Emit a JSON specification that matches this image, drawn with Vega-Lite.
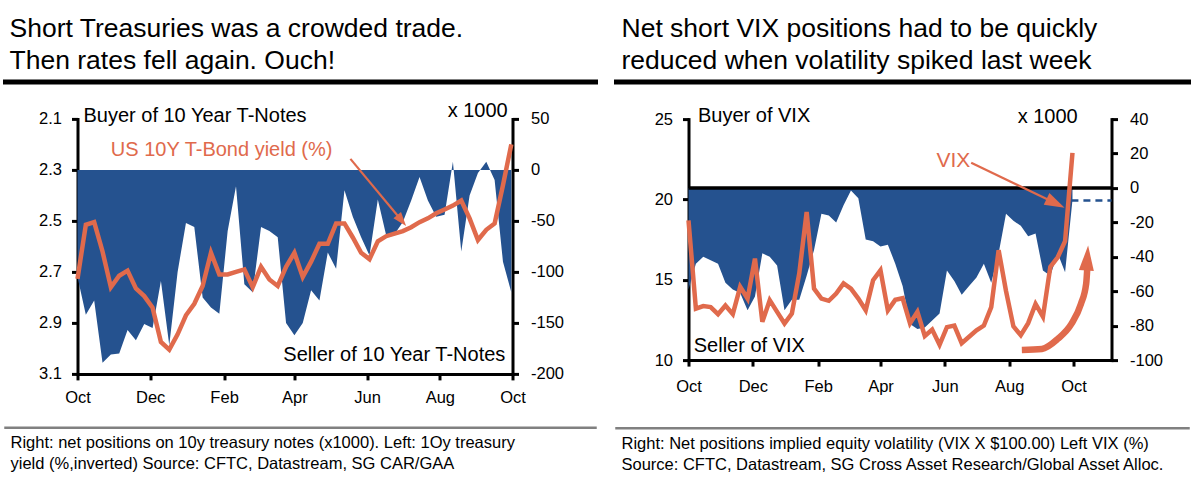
{
  "$schema": "https://vega.github.io/schema/vega-lite/v6.json",
  "background": "white",
  "padding": {"left": 2.5, "top": 13, "right": 0, "bottom": 0},
  "config": {
    "view": {"stroke": null},
    "font": "Liberation Sans",
    "axis": {"domainColor": "#000", "domainWidth": 3, "domainCap": "square", "tickColor": "#000", "tickWidth": 3, "tickSize": 6, "labelFontSize": 16.5, "labelColor": "#000", "labelFont": "Liberation Sans", "grid": false, "labelFlush": false, "labelOverlap": false, "labelBound": false},
    "title": {"font": "Liberation Sans", "fontWeight": "normal", "color": "#000", "anchor": "start"},
    "text": {"font": "Liberation Sans"}
  },
  "datasets": {
    "tsy": [
      {"date":"2017-10-01","pos":-105,"yield":2.727},
      {"date":"2017-10-08","pos":-142,"yield":2.515},
      {"date":"2017-10-15","pos":-128,"yield":2.505},
      {"date":"2017-10-22","pos":-189,"yield":2.62},
      {"date":"2017-10-29","pos":-181,"yield":2.76},
      {"date":"2017-11-05","pos":-180,"yield":2.715},
      {"date":"2017-11-12","pos":-157,"yield":2.695},
      {"date":"2017-11-19","pos":-167,"yield":2.765},
      {"date":"2017-11-26","pos":-151,"yield":2.795},
      {"date":"2017-12-03","pos":-155,"yield":2.84},
      {"date":"2017-12-10","pos":-109,"yield":2.975},
      {"date":"2017-12-17","pos":-172,"yield":3.005},
      {"date":"2017-12-24","pos":-100,"yield":2.945},
      {"date":"2017-12-31","pos":-52,"yield":2.87},
      {"date":"2018-01-07","pos":-56,"yield":2.825},
      {"date":"2018-01-14","pos":-125,"yield":2.755},
      {"date":"2018-01-21","pos":-135,"yield":2.625},
      {"date":"2018-01-28","pos":-141,"yield":2.71},
      {"date":"2018-02-04","pos":-60,"yield":2.71},
      {"date":"2018-02-11","pos":-16,"yield":2.7},
      {"date":"2018-02-18","pos":-112,"yield":2.69},
      {"date":"2018-02-25","pos":-120,"yield":2.76},
      {"date":"2018-03-04","pos":-56,"yield":2.68},
      {"date":"2018-03-11","pos":-60,"yield":2.73},
      {"date":"2018-03-18","pos":-66,"yield":2.755},
      {"date":"2018-03-25","pos":-150,"yield":2.68},
      {"date":"2018-04-01","pos":-162,"yield":2.625},
      {"date":"2018-04-08","pos":-150,"yield":2.72},
      {"date":"2018-04-15","pos":-118,"yield":2.66},
      {"date":"2018-04-22","pos":-128,"yield":2.59},
      {"date":"2018-04-29","pos":-81,"yield":2.59},
      {"date":"2018-05-06","pos":-97,"yield":2.51},
      {"date":"2018-05-13","pos":-20,"yield":2.51},
      {"date":"2018-05-20","pos":-46,"yield":2.565},
      {"date":"2018-05-27","pos":-66,"yield":2.625},
      {"date":"2018-06-03","pos":-84,"yield":2.65},
      {"date":"2018-06-10","pos":-29,"yield":2.58},
      {"date":"2018-06-17","pos":-64,"yield":2.56},
      {"date":"2018-06-24","pos":-63,"yield":2.55},
      {"date":"2018-07-01","pos":-51,"yield":2.54},
      {"date":"2018-07-08","pos":-30,"yield":2.525},
      {"date":"2018-07-15","pos":-7,"yield":2.505},
      {"date":"2018-07-22","pos":-30,"yield":2.49},
      {"date":"2018-07-29","pos":-46,"yield":2.47},
      {"date":"2018-08-05","pos":-44,"yield":2.455},
      {"date":"2018-08-12","pos":8,"yield":2.44},
      {"date":"2018-08-19","pos":-80,"yield":2.42},
      {"date":"2018-08-26","pos":-25,"yield":2.49},
      {"date":"2018-09-02","pos":-3,"yield":2.575},
      {"date":"2018-09-09","pos":8,"yield":2.535},
      {"date":"2018-09-16","pos":-10,"yield":2.51},
      {"date":"2018-09-23","pos":-90,"yield":2.36},
      {"date":"2018-09-30","pos":-120,"yield":2.2}
    ],
    "vix": [
      {"date":"2017-10-01","pos":-59,"vix":18.7},
      {"date":"2017-10-08","pos":-44,"vix":13.2},
      {"date":"2017-10-15","pos":-40,"vix":13.36},
      {"date":"2017-10-22","pos":-42,"vix":13.3},
      {"date":"2017-10-29","pos":-44,"vix":12.86},
      {"date":"2017-11-05","pos":-55,"vix":13.4},
      {"date":"2017-11-12","pos":-59,"vix":12.86},
      {"date":"2017-11-19","pos":-61,"vix":14.56},
      {"date":"2017-11-26","pos":-71,"vix":13.83},
      {"date":"2017-12-03","pos":-63,"vix":16.32},
      {"date":"2017-12-10","pos":-38,"vix":12.38},
      {"date":"2017-12-17","pos":-40,"vix":13.73},
      {"date":"2017-12-24","pos":-45,"vix":13.0},
      {"date":"2017-12-31","pos":-71,"vix":12.28},
      {"date":"2018-01-07","pos":-65,"vix":12.9},
      {"date":"2018-01-14","pos":-65,"vix":15.39},
      {"date":"2018-01-21","pos":-51,"vix":19.22},
      {"date":"2018-01-28","pos":-36,"vix":14.45},
      {"date":"2018-02-04","pos":-15,"vix":13.83},
      {"date":"2018-02-11","pos":-16,"vix":13.69},
      {"date":"2018-02-18","pos":-20,"vix":14.14},
      {"date":"2018-02-25","pos":-10,"vix":14.77},
      {"date":"2018-03-04","pos":-1.5,"vix":14.45},
      {"date":"2018-03-11","pos":-6,"vix":13.83},
      {"date":"2018-03-18","pos":-30,"vix":13.1},
      {"date":"2018-03-25","pos":-31,"vix":14.97},
      {"date":"2018-04-01","pos":-34,"vix":15.59},
      {"date":"2018-04-08","pos":-33,"vix":13.1},
      {"date":"2018-04-15","pos":-44,"vix":13.75},
      {"date":"2018-04-22","pos":-57,"vix":13.85},
      {"date":"2018-04-29","pos":-79,"vix":12.28},
      {"date":"2018-05-06","pos":-82,"vix":13.0},
      {"date":"2018-05-13","pos":-81,"vix":11.5},
      {"date":"2018-05-20","pos":-77,"vix":11.9},
      {"date":"2018-05-27","pos":-73,"vix":10.95},
      {"date":"2018-06-03","pos":-48,"vix":12.05},
      {"date":"2018-06-10","pos":-54,"vix":12.15},
      {"date":"2018-06-17","pos":-62,"vix":11.05},
      {"date":"2018-06-24","pos":-57,"vix":11.45},
      {"date":"2018-07-01","pos":-52,"vix":11.85},
      {"date":"2018-07-08","pos":-44,"vix":12.15},
      {"date":"2018-07-15","pos":-55,"vix":13.3},
      {"date":"2018-07-22","pos":-38,"vix":16.84},
      {"date":"2018-07-29","pos":-15,"vix":14.3},
      {"date":"2018-08-05","pos":-19,"vix":12.1},
      {"date":"2018-08-12","pos":-22,"vix":11.55},
      {"date":"2018-08-19","pos":-28,"vix":12.3},
      {"date":"2018-08-26","pos":-26.5,"vix":13.5},
      {"date":"2018-09-02","pos":-48,"vix":12.7},
      {"date":"2018-09-09","pos":-51,"vix":15.8},
      {"date":"2018-09-16","pos":-38,"vix":16.4},
      {"date":"2018-09-23","pos":-49,"vix":17.4},
      {"date":"2018-09-30","pos":-7,"vix":22.9}
    ],
    "curve": [
      {"date":"2018-08-13","pos":-94.1},
      {"date":"2018-09-01","pos":-93.5},
      {"date":"2018-09-16","pos":-87.7},
      {"date":"2018-09-29","pos":-79.0},
      {"date":"2018-10-08","pos":-67.4},
      {"date":"2018-10-13","pos":-55.6},
      {"date":"2018-10-14","pos":-46.9}
    ]
  },
  "spacing": 15,
  "hconcat": [
    {
      "spacing": 9.9,
      "vconcat": [
        {
          "title": {"text": ["Short Treasuries was a crowded trade.", "Then rates fell again. Ouch!"], "fontSize": 26.5, "lineHeight": 32, "offset": 2, "dx": 4},
          "width": 590, "height": 0.01,
          "view": {"stroke": "#000", "strokeWidth": 5},
          "data": {"values": [{"t": ""}]},
          "mark": {"type": "text"},
          "encoding": {"text": {"field": "t"}}
        },
        {
          "width": 590, "height": 255,
          "layer": [
            {
              "layer": [
                {
                  "data": {"name": "tsy"},
                  "mark": {"type": "area", "color": "#25528F", "opacity": 1},
                  "encoding": {
                    "x": {"field": "date", "type": "temporal", "title": null,
                      "scale": {"type": "utc", "range": [72, 507], "domain": [{"year": 2017, "month": 10, "date": 1, "utc": true}, {"year": 2018, "month": 10, "date": 1, "utc": true}]},
                      "axis": {"values": [
                        {"year": 2017, "month": 10, "date": 1, "utc": true},
                        {"year": 2017, "month": 12, "date": 1, "utc": true},
                        {"year": 2018, "month": 2, "date": 1, "utc": true},
                        {"year": 2018, "month": 4, "date": 1, "utc": true},
                        {"year": 2018, "month": 6, "date": 1, "utc": true},
                        {"year": 2018, "month": 8, "date": 1, "utc": true},
                        {"year": 2018, "month": 10, "date": 1, "utc": true}], "tickCount": 20, "format": "%b", "labelPadding": 10, "minExtent": 35.5, "labelOverlap": false, "title": null}},
                    "y": {"field": "pos", "type": "quantitative", "title": null,
                      "scale": {"domain": [-200, 50], "nice": false, "zero": false},
                      "axis": {"orient": "right", "offset": -83, "values": [50, 0, -50, -100, -150, -200], "tickCount": 20, "labelExpr": "toString(datum.value)", "labelPadding": 12, "labelOverlap": false, "title": null}},
                    "y2": {"datum": 0}
                  }
                },
                {
                  "data": {"values": [{"label": "Buyer of 10 Year T-Notes"}]},
                  "mark": {"type": "text", "align": "left", "baseline": "alphabetic", "fontSize": 20, "color": "#000"},
                  "encoding": {"x": {"datum": {"year": 2017, "month": 10, "date": 6, "utc": true}, "type": "temporal"}, "y": {"datum": 47.4, "type": "quantitative"}, "text": {"field": "label"}}
                },
                {
                  "data": {"values": [{"label": "US 10Y T-Bond yield (%)"}]},
                  "mark": {"type": "text", "align": "left", "baseline": "alphabetic", "fontSize": 20, "color": "#E06A4C"},
                  "encoding": {"x": {"datum": {"year": 2017, "month": 10, "date": 29, "utc": true}, "type": "temporal"}, "y": {"datum": 13.7, "type": "quantitative"}, "text": {"field": "label"}}
                },
                {
                  "data": {"values": [{"label": "x 1000"}]},
                  "mark": {"type": "text", "align": "right", "baseline": "alphabetic", "fontSize": 20, "color": "#000"},
                  "encoding": {"x": {"datum": {"year": 2018, "month": 9, "date": 27, "utc": true}, "type": "temporal"}, "y": {"datum": 52, "type": "quantitative"}, "text": {"field": "label"}}
                },
                {
                  "data": {"values": [{"label": "Seller of 10 Year T-Notes"}]},
                  "mark": {"type": "text", "align": "right", "baseline": "alphabetic", "fontSize": 20, "color": "#000"},
                  "encoding": {"x": {"datum": {"year": 2018, "month": 9, "date": 25, "utc": true}, "type": "temporal"}, "y": {"datum": -187.3, "type": "quantitative"}, "text": {"field": "label"}}
                },
                {
                  "data": {"values": [{}]},
                  "mark": {"type": "rule", "color": "#E06A4C", "strokeWidth": 2.2},
                  "encoding": {
                    "x": {"datum": {"year": 2018, "month": 5, "date": 18, "utc": true}, "type": "temporal"},
                    "x2": {"datum": {"year": 2018, "month": 6, "date": 30, "utc": true}},
                    "y": {"datum": 10.8, "type": "quantitative"},
                    "y2": {"datum": -49.6}
                  }
                },
                {
                  "data": {"values": [{}]},
                  "mark": {"type": "point", "shape": "M0,-1L-0.7,1L0.7,1Z", "size": 196, "angle": 140.6, "filled": true, "color": "#E06A4C", "opacity": 1, "strokeWidth": 0},
                  "encoding": {"x": {"datum": {"year": 2018, "month": 6, "date": 30, "utc": true}, "type": "temporal"}, "y": {"datum": -49.6, "type": "quantitative"}}
                }
              ]
            },
            {
              "layer": [
                {
                  "data": {"name": "tsy"},
                  "mark": {"type": "line", "color": "#E06A4C", "strokeWidth": 4.5},
                  "encoding": {
                    "x": {"field": "date", "type": "temporal", "title": null},
                    "y": {"field": "yield", "type": "quantitative", "title": null,
                      "scale": {"domain": [2.1, 3.1], "reverse": true, "nice": false, "zero": false},
                      "axis": {"orient": "left", "offset": -72, "values": [2.1, 2.3, 2.5, 2.7, 2.9, 3.1], "tickCount": 20, "format": ".1f", "labelPadding": 10, "labelOverlap": false, "title": null}}
                  }
                }
              ]
            }
          ],
          "resolve": {"scale": {"y": "independent"}, "axis": {"y": "independent"}}
        },
        {
          "title": {"text": ["Right: net positions on 10y treasury notes (x1000). Left: 1Oy treasury", "yield (%,inverted) Source: CFTC, Datastream, SG CAR/GAA"], "orient": "bottom", "fontSize": 16.5, "lineHeight": 21, "offset": 2.5, "dx": 5},
          "width": 590, "height": 0.01,
          "view": {"stroke": "#808080", "strokeWidth": 2.5},
          "data": {"values": [{"t": ""}]},
          "mark": {"type": "text"},
          "encoding": {"text": {"field": "t"}}
        }
      ]
    },
    {
      "spacing": 16.1,
      "vconcat": [
        {
          "title": {"text": ["Net short VIX positions had to be quickly", "reduced when volatility spiked last week"], "fontSize": 26.5, "lineHeight": 32, "offset": 2, "dx": 5},
          "width": 572, "height": 0.01,
          "view": {"stroke": "#000", "strokeWidth": 5},
          "data": {"values": [{"t": ""}]},
          "mark": {"type": "text"},
          "encoding": {"text": {"field": "t"}}
        },
        {
          "width": 572, "height": 241,
          "layer": [
            {
              "layer": [
                {
                  "data": {"name": "vix"},
                  "mark": {"type": "area", "color": "#25528F", "opacity": 1},
                  "encoding": {
                    "x": {"field": "date", "type": "temporal", "title": null,
                      "scale": {"type": "utc", "range": [72, 495], "domain": [{"year": 2017, "month": 10, "date": 1, "utc": true}, {"year": 2018, "month": 11, "date": 6, "utc": true}]},
                      "axis": {"values": [
                        {"year": 2017, "month": 10, "date": 1, "utc": true},
                        {"year": 2017, "month": 12, "date": 1, "utc": true},
                        {"year": 2018, "month": 2, "date": 1, "utc": true},
                        {"year": 2018, "month": 4, "date": 1, "utc": true},
                        {"year": 2018, "month": 6, "date": 1, "utc": true},
                        {"year": 2018, "month": 8, "date": 1, "utc": true},
                        {"year": 2018, "month": 10, "date": 1, "utc": true}], "tickCount": 20, "format": "%b", "labelPadding": 12, "minExtent": 43.35, "labelOverlap": false, "title": null}},
                    "y": {"field": "pos", "type": "quantitative", "title": null,
                      "scale": {"domain": [-100, 40], "nice": false, "zero": false},
                      "axis": {"orient": "right", "offset": -77, "values": [40, 20, 0, -20, -40, -60, -80, -100], "tickCount": 20, "labelExpr": "toString(datum.value)", "labelPadding": 12, "labelOverlap": false, "labelSeparation": 0, "title": null}},
                    "y2": {"datum": 0}
                  }
                },
                {
                  "data": {"values": [{}]},
                  "mark": {"type": "rule", "color": "#000", "strokeWidth": 3.5},
                  "encoding": {
                    "x": {"datum": {"year": 2017, "month": 10, "date": 1, "utc": true}, "type": "temporal"},
                    "x2": {"datum": {"year": 2018, "month": 11, "date": 6, "utc": true}},
                    "y": {"datum": 0, "type": "quantitative"}
                  }
                },
                {
                  "data": {"values": [{}]},
                  "mark": {"type": "rule", "color": "#25528F", "strokeWidth": 2.5, "strokeDash": [7, 5]},
                  "encoding": {
                    "x": {"datum": {"year": 2018, "month": 9, "date": 29, "utc": true}, "type": "temporal"},
                    "x2": {"datum": {"year": 2018, "month": 11, "date": 6, "utc": true}},
                    "y": {"datum": -7.3, "type": "quantitative"}
                  }
                },
                {
                  "data": {"values": [{"label": "Buyer of VIX"}]},
                  "mark": {"type": "text", "align": "left", "baseline": "alphabetic", "fontSize": 20, "color": "#000"},
                  "encoding": {"x": {"datum": {"year": 2017, "month": 10, "date": 10, "utc": true}, "type": "temporal"}, "y": {"datum": 38.1, "type": "quantitative"}, "text": {"field": "label"}}
                },
                {
                  "data": {"values": [{"label": "Seller of VIX"}]},
                  "mark": {"type": "text", "align": "left", "baseline": "alphabetic", "fontSize": 20, "color": "#000"},
                  "encoding": {"x": {"datum": {"year": 2017, "month": 10, "date": 6, "utc": true}, "type": "temporal"}, "y": {"datum": -95.1, "type": "quantitative"}, "text": {"field": "label"}}
                },
                {
                  "data": {"values": [{"label": "x 1000"}]},
                  "mark": {"type": "text", "align": "right", "baseline": "alphabetic", "fontSize": 20, "color": "#000"},
                  "encoding": {"x": {"datum": {"year": 2018, "month": 10, "date": 5, "utc": true}, "type": "temporal"}, "y": {"datum": 37.6, "type": "quantitative"}, "text": {"field": "label"}}
                },
                {
                  "data": {"values": [{"label": "VIX"}]},
                  "mark": {"type": "text", "align": "left", "baseline": "alphabetic", "fontSize": 21, "color": "#E06A4C"},
                  "encoding": {"x": {"datum": {"year": 2018, "month": 5, "date": 24, "utc": true}, "type": "temporal"}, "y": {"datum": 12.4, "type": "quantitative"}, "text": {"field": "label"}}
                },
                {
                  "data": {"values": [{}]},
                  "mark": {"type": "rule", "color": "#E06A4C", "strokeWidth": 2.2},
                  "encoding": {
                    "x": {"datum": {"year": 2018, "month": 6, "date": 26, "utc": true}, "type": "temporal"},
                    "x2": {"datum": {"year": 2018, "month": 9, "date": 14, "utc": true}},
                    "y": {"datum": 14.7, "type": "quantitative"},
                    "y2": {"datum": -8.9}
                  }
                },
                {
                  "data": {"values": [{}]},
                  "mark": {"type": "point", "shape": "M0,-1L-0.65,1L0.65,1Z", "size": 400, "angle": 115.8, "filled": true, "color": "#E06A4C", "opacity": 1, "strokeWidth": 0},
                  "encoding": {"x": {"datum": {"year": 2018, "month": 9, "date": 14, "utc": true}, "type": "temporal"}, "y": {"datum": -8.9, "type": "quantitative"}}
                },
                {
                  "data": {"name": "curve"},
                  "mark": {"type": "line", "color": "#E06A4C", "strokeWidth": 6.5, "interpolate": "monotone", "strokeCap": "butt"},
                  "encoding": {"x": {"field": "date", "type": "temporal"}, "y": {"field": "pos", "type": "quantitative"}}
                },
                {
                  "data": {"values": [{}]},
                  "mark": {"type": "point", "shape": "M0,-1L-0.6,1L0.6,1Z", "size": 625, "angle": 4, "filled": true, "color": "#E06A4C", "opacity": 1, "strokeWidth": 0},
                  "encoding": {"x": {"datum": {"year": 2018, "month": 10, "date": 14, "utc": true}, "type": "temporal"}, "y": {"datum": -40.7, "type": "quantitative"}}
                }
              ]
            },
            {
              "layer": [
                {
                  "data": {"name": "vix"},
                  "mark": {"type": "line", "color": "#E06A4C", "strokeWidth": 4.5},
                  "encoding": {
                    "x": {"field": "date", "type": "temporal", "title": null},
                    "y": {"field": "vix", "type": "quantitative", "title": null,
                      "scale": {"domain": [10, 25], "nice": false, "zero": false},
                      "axis": {"orient": "left", "offset": -72, "values": [25, 20, 15, 10], "tickCount": 20, "labelPadding": 10, "labelOverlap": false, "title": null}}
                  }
                }
              ]
            }
          ],
          "resolve": {"scale": {"y": "independent"}, "axis": {"y": "independent"}}
        },
        {
          "title": {"text": ["Right: Net positions implied equity volatility (VIX X $100.00) Left VIX (%)", "Source: CFTC, Datastream, SG Cross Asset Research/Global Asset Alloc."], "orient": "bottom", "fontSize": 16.5, "lineHeight": 21, "offset": 2.5, "dx": 5},
          "width": 572, "height": 0.01,
          "view": {"stroke": "#808080", "strokeWidth": 2.5},
          "data": {"values": [{"t": ""}]},
          "mark": {"type": "text"},
          "encoding": {"text": {"field": "t"}}
        }
      ]
    }
  ]
}
